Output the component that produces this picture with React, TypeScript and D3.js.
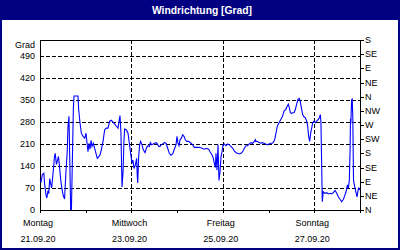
import React from "react";
import * as d3 from "d3";

const title = "Windrichtung [Grad]";
const yUnit = "Grad";
const leftTicks = [0, 70, 140, 210, 280, 350, 420, 490];
const rightTickValues = [0, 45, 90, 135, 180, 225, 270, 315, 360, 405, 450, 495, 540];
const rightTickLabels = ["N", "NE", "E", "SE", "S", "SW", "W", "NW", "N", "NE", "E", "SE", "S"];
const dayLabels = ["Montag", "Mittwoch", "Freitag", "Sonntag"];
const dateLabels = ["21.09.20", "23.09.20", "25.09.20", "27.09.20"];
const labelDays = [0, 2, 4, 6];
const startDate = new Date(2020, 8, 21);
const endDate = new Date(2020, 8, 28);

// hours since Monday 21.09.20 00:00
const hours = [
  0.0, 0.6, 1.2, 2.0, 2.5, 3.2, 3.6, 4.2, 4.6, 5.1, 5.6, 6.1, 6.6, 7.2, 7.6, 8.0, 8.6, 9.1, 9.7, 10.2,
  10.8, 11.5, 12.2, 12.9, 13.6, 14.3, 14.7, 15.2, 15.6, 16.1, 16.5, 17.0, 17.5, 17.85, 19.95, 20.3, 21.0,
  21.7, 22.6, 23.5, 24.15, 24.7, 25.2, 25.7, 26.25, 26.8, 27.3, 28.0, 28.7, 29.6, 30.1, 30.8, 31.5, 32.2,
  33.1, 33.95, 34.8, 35.7, 36.6, 37.45, 38.3, 39.2, 40.1, 40.95, 41.5, 42.0, 42.5, 43.05, 43.6, 44.1,
  44.45, 45.3, 46.2, 46.9, 47.6, 48.3, 48.8, 49.35, 50.05, 50.75, 51.1, 51.3, 51.8, 52.3, 52.85, 53.55,
  54.25, 55.13, 56.0, 56.7, 57.4, 57.93, 58.63, 59.5, 60.2, 60.9, 61.6, 62.3, 63.0, 63.7, 64.4, 65.28,
  66.15, 67.03, 67.9, 68.78, 69.65, 70.53, 71.4, 71.93, 72.45, 72.98, 73.5, 74.2, 74.9, 75.6, 76.3, 77.0,
  78.05, 79.28, 80.15, 81.03, 82.25, 83.65, 85.05, 86.28, 87.5, 88.55, 89.25, 90.3, 91.0, 91.53, 92.05,
  92.4, 92.93, 93.45, 93.98, 94.5, 95.03, 95.55, 96.08, 96.78, 97.65, 98.53, 99.4, 100.28, 101.15,
  102.03, 102.9, 103.78, 104.65, 105.53, 106.4, 107.28, 108.15, 109.03, 109.9, 110.78, 111.65, 112.53,
  113.05, 113.23, 114.1, 114.98, 115.85, 116.73, 117.6, 118.48, 119.35, 120.23, 121.1, 121.98, 122.85,
  123.38, 123.9, 124.6, 125.48, 126.35, 127.23, 128.1, 128.98, 129.85, 130.38, 130.9, 131.43, 131.95,
  132.65, 133.35, 134.05, 134.75, 135.45, 136.15, 136.68, 137.2, 137.9, 138.6, 139.3, 140.0, 140.53,
  141.05, 141.58, 142.1, 142.63, 143.15, 143.85, 144.55, 145.25, 145.95, 146.65, 147.18, 147.5, 148.2,
  148.7, 149.6, 150.5, 151.4, 152.3, 153.1, 154.0, 154.9, 155.8, 156.6, 157.5, 158.4, 159.3, 160.1,
  160.7, 161.4, 161.9, 162.4, 162.8, 163.0, 163.2, 163.6, 163.9, 164.2, 164.6, 165.2, 165.8, 166.4,
  167.2, 168.0,
];
const degrees = [
  95, 90, 112, 117, 78, 45, 38, 62, 52, 100, 84, 70, 100, 140, 170, 180, 145, 155, 170, 140,
  100, 68, 46, 35, 120, 185, 266, 298, 170, 2, 2, 160, 320, 362, 362, 320, 277,
  244, 234, 228, 244, 212, 185, 212, 193, 221, 202, 212, 196, 175, 164, 169, 175, 191,
  218, 255, 260, 260, 282, 285, 279, 273, 266, 260, 282, 300, 244, 73, 121, 223,
  257, 255, 244, 212, 180, 148, 159, 132, 143, 164, 105, 86, 169, 207, 218, 207,
  191, 182, 199, 204, 202, 214, 207, 210, 212, 214, 210, 202, 202, 207, 210, 214,
  212, 196, 180, 174, 178, 193, 207, 234, 212, 204, 223, 228, 239, 234, 223, 218,
  218, 212, 207, 199, 199, 199, 196, 193, 196, 193, 185, 175, 164, 148, 135,
  180, 126, 207, 94, 121, 169, 185, 207, 210, 204, 210, 207, 202, 196,
  188, 182, 180, 178, 180, 185, 196, 204, 204, 210, 214, 212, 218,
  223, 218, 218, 214, 212, 214, 212, 210, 207, 210, 212, 212, 218,
  228, 244, 266, 277, 287, 296, 314, 319, 330, 336, 325, 309, 307,
  309, 309, 319, 336, 352, 354, 343, 325, 303, 296, 293, 282, 266,
  234, 218, 244, 260, 277, 282, 277, 282, 287, 293, 303, 277, 26,
  58, 53, 55, 51, 53, 51, 55, 62, 53, 42, 34, 26, 34, 48,
  58, 80, 69, 95, 191, 290, 275, 350, 352, 300, 95, 74, 58, 42,
  69, 64,
];

const W = 400;
const H = 250;
const navy = "#000080";
const font = "'Liberation Sans', Arial, sans-serif";

export default function App() {
  const left = 40;
  const right = 360;
  const top = 40;
  const bottom = 210;
  const x = d3.scaleTime().domain([startDate, endDate]).range([left, right]);
  const y = d3.scaleLinear().domain([0, 540]).range([bottom, top]);
  const pts: [Date, number][] = hours.map((h, i) => [new Date(startDate.getTime() + h * 3600e3), degrees[i]]);
  const line = d3
    .line<[Date, number]>()
    .x((d) => x(d[0]))
    .y((d) => y(d[1]));
  const days = d3.timeDay.range(startDate, d3.timeDay.offset(endDate, 1));
  const r = (v: number) => Math.round(v) + 0.5;

  return (
    <svg
      width={W}
      height={H}
      style={{ position: "fixed", left: 0, top: 0, display: "block" }}
      fontFamily={font}
    >
      <rect x={0} y={0} width={W} height={H} fill="#ffffff" />
      <rect x={1} y={1} width={W - 2} height={H - 2} fill="none" stroke={navy} strokeWidth={2} />
      <rect x={0} y={0} width={W} height={20} fill={navy} />
      <text x={202} y={14} textAnchor="middle" fill="#ffffff" fontWeight="bold" fontSize={10.3}>
        {title}
      </text>

      {/* horizontal grid */}
      {leftTicks
        .filter((v) => v > 0)
        .map((v) => (
          <line
            key={"hg" + v}
            x1={left}
            x2={right}
            y1={r(y(v))}
            y2={r(y(v))}
            stroke="#000"
            strokeDasharray="4,2"
            shapeRendering="crispEdges"
          />
        ))}
      {/* vertical grid */}
      {labelDays
        .filter((d) => d > 0)
        .map((d) => {
          const xv = r(x(d3.timeDay.offset(startDate, d)));
          return (
            <line
              key={"vg" + d}
              x1={xv}
              x2={xv}
              y1={top}
              y2={bottom}
              stroke="#000"
              strokeDasharray="4,2"
              shapeRendering="crispEdges"
            />
          );
        })}

      {/* frame */}
      <line x1={left} x2={right + 1} y1={r(top)} y2={r(top)} stroke="#000" shapeRendering="crispEdges" />
      <line x1={left} x2={right + 1} y1={r(bottom)} y2={r(bottom)} stroke="#000" shapeRendering="crispEdges" />
      <line x1={r(left)} x2={r(left)} y1={top} y2={bottom + 1} stroke="#000" shapeRendering="crispEdges" />
      <line x1={r(right)} x2={r(right)} y1={top} y2={bottom + 1} stroke="#000" shapeRendering="crispEdges" />

      {/* bottom ticks */}
      {days.map((d, i) => {
        const xv = r(x(d));
        return <line key={"bt" + i} x1={xv} x2={xv} y1={bottom} y2={bottom + 3} stroke="#000" shapeRendering="crispEdges" />;
      })}
      {labelDays.map((d, i) => {
        const xv = x(d3.timeDay.offset(startDate, d)) - 2;
        return (
          <g key={"bl" + d} fontSize={9} fill="#000" textAnchor="middle">
            <text x={xv} y={226}>{dayLabels[i]}</text>
            <text x={xv} y={242}>{dateLabels[i]}</text>
          </g>
        );
      })}

      {/* left labels */}
      {leftTicks.map((v) => (
        <text key={"ll" + v} x={35} y={y(v)} dy="0.35em" textAnchor="end" fontSize={9} fill="#000">
          {v}
        </text>
      ))}
      <text x={35} y={45} dy="0.35em" textAnchor="end" fontSize={9} fill="#000">
        {yUnit}
      </text>

      {/* right axis */}
      {rightTickValues.map((v, i) => (
        <g key={"rt" + i}>
          <line x1={right} x2={right + 4} y1={r(y(v))} y2={r(y(v))} stroke="#000" shapeRendering="crispEdges" />
          <text x={365} y={y(v)} dy="0.35em" fontSize={9} fill="#000">
            {rightTickLabels[i]}
          </text>
        </g>
      ))}

      {/* data */}
      <path d={line(pts) || ""} fill="none" stroke="#0000ff" strokeWidth={1.1} />
    </svg>
  );
}
